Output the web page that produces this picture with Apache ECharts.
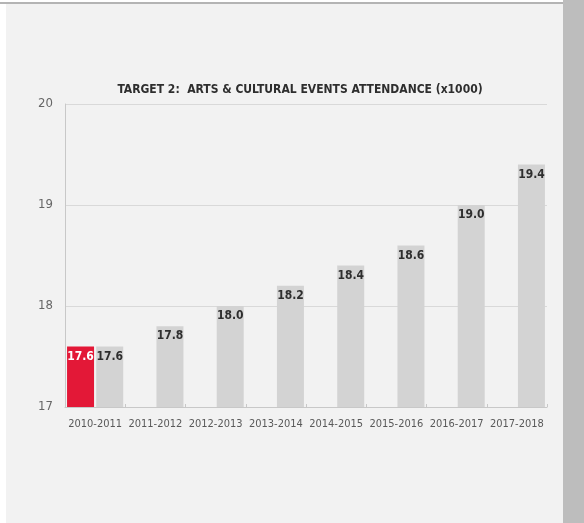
<!DOCTYPE html>
<html>
<head>
<meta charset="utf-8">
<script src="https://cdn.jsdelivr.net/npm/echarts@6/dist/echarts.min.js"></script>
<style>
  html, body { margin: 0; padding: 0; background: #ffffff; }
  #chart { width: 584px; height: 523px; }
</style>
</head>
<body>
<div id="chart"></div>
<script>
// Attendance by season, in thousands
const seasons = ['2010-2011', '2011-2012', '2012-2013', '2013-2014', '2014-2015', '2015-2016', '2016-2017', '2017-2018'];
const baselineValues = [17.6, null, null, null, null, null, null, null];
const targetValues = [17.6, 17.8, 18.0, 18.2, 18.4, 18.6, 19.0, 19.4];
const yTicks = [17, 18, 19, 20];

// condensed face of DejaVu Sans, requested through the font-stretch keyword
const FONT = "'DejaVu Sans', sans-serif";
const STRETCH = 'condensed';

const chart = echarts.init(document.getElementById('chart'), null, { renderer: 'canvas' });

chart.setOption({
  backgroundColor: '#ffffff',
  animation: false,
  graphic: [
    // panel background
    { type: 'rect', z: -10, shape: { x: 6, y: 4, width: 557, height: 519 }, style: { fill: '#f2f2f2' } },
    // top rule
    { type: 'rect', z: -9, shape: { x: 0, y: 2, width: 563, height: 2 }, style: { fill: '#b4b4b4' } },
    // right side strip
    { type: 'rect', z: -9, shape: { x: 563, y: 0, width: 21, height: 523 }, style: { fill: '#bdbdbd' } }
  ],
  title: {
    text: 'TARGET 2:  ARTS & CULTURAL EVENTS ATTENDANCE (x1000)',
    left: 295,
    top: 79,
    textAlign: 'center',
    textStyle: { fontFamily: FONT, fontStyle: STRETCH, fontWeight: 'bold', fontSize: 12, color: '#2e2e2e' }
  },
  grid: { left: 65, right: 37, top: 104, bottom: 116, containLabel: false },
  xAxis: {
    type: 'category',
    data: seasons,
    axisLine: { lineStyle: { color: '#c8c8c8', width: 1 } },
    axisTick: { show: true, inside: true, length: 3, lineStyle: { color: '#c8c8c8' } },
    axisLabel: { fontFamily: FONT, fontStyle: STRETCH, fontSize: 11, color: '#595959', margin: 12, interval: 0 }
  },
  yAxis: {
    type: 'value',
    min: yTicks[0],
    max: yTicks[yTicks.length - 1],
    interval: 1,
    axisLine: { show: true, lineStyle: { color: '#c8c8c8', width: 1 } },
    axisTick: { show: false },
    splitLine: { lineStyle: { color: '#d9d9d9', width: 1 } },
    axisLabel: { fontFamily: FONT, fontStyle: STRETCH, fontSize: 13, color: '#666666', margin: 12 }
  },
  series: [
    {
      name: 'Baseline',
      type: 'bar',
      data: baselineValues,
      barWidth: 27,
      barGap: '8%',
      barCategoryGap: '6%',
      itemStyle: { color: '#e31837' },
      label: {
        show: true,
        position: 'insideTop',
        distance: 4,
        formatter: p => p.value.toFixed(1),
        fontFamily: FONT, fontStyle: STRETCH, fontWeight: 'bold', fontSize: 12, color: '#ffffff'
      }
    },
    {
      name: 'Target',
      type: 'bar',
      data: targetValues,
      barWidth: 27,
      itemStyle: { color: '#d3d3d3' },
      label: {
        show: true,
        position: 'insideTop',
        distance: 4,
        formatter: p => p.value.toFixed(1),
        fontFamily: FONT, fontStyle: STRETCH, fontWeight: 'bold', fontSize: 12, color: '#2e2e2e'
      }
    }
  ]
});
</script>
</body>
</html>
